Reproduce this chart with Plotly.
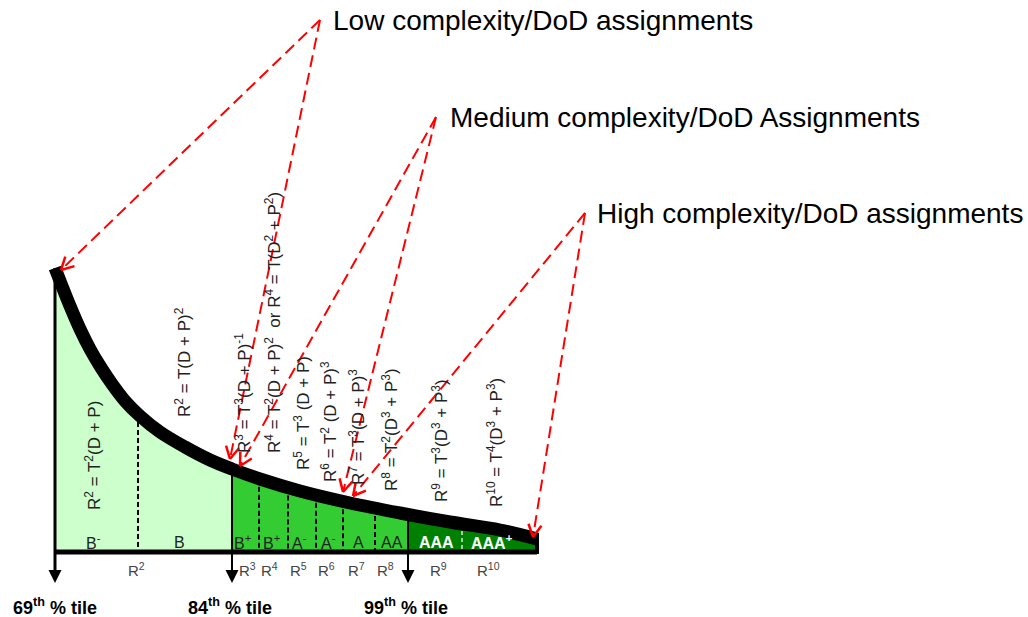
import numpy as np
import plotly.graph_objects as go

# ---------------- data (diagram units = pixels of the 1028x617 canvas) -------------
curve_x = [55, 62, 70, 80, 90, 100, 112, 125, 140, 160, 185, 210, 232, 260, 300, 350, 400, 450, 500, 537]
curve_y = [268, 286, 306, 329, 349, 366, 384, 401, 416, 432, 447, 460, 469, 479, 491, 503, 513, 522, 530, 539]
baseline_y = 552
zone_edges = [55, 232, 408, 537]
zone_colors = ["#ccffcc", "#33cc33", "#008000"]
dashed_x = [138, 259, 288, 316, 343, 375]
faint_x = [462]

grade_labels = ["B<sup>-</sup>", "B", "B<sup>+</sup>", "B<sup>+</sup>", "A<sup>-</sup>", "A<sup>-</sup>",
                "A", "AA", "<b>AAA</b>", "<b>AAA<sup>+</sup></b>"]
grade_x = [93, 179, 242, 271, 299, 328, 358, 392, 436, 492]
grade_colors = ["#222222"] * 8 + ["white", "white"]
grade_y = 542

r_labels = ["R<sup>2</sup>", "R<sup>3</sup>", "R<sup>4</sup>", "R<sup>5</sup>", "R<sup>6</sup>",
            "R<sup>7</sup>", "R<sup>8</sup>", "R<sup>9</sup>", "R<sup>10</sup>"]
r_x = [136, 247, 269, 298, 326, 356, 385, 438, 488]
r_y = 569

percentile_labels = ["<b>69<sup>th</sup> % tile</b>", "<b>84<sup>th</sup> % tile</b>", "<b>99<sup>th</sup> % tile</b>"]
percentile_x = [55, 230, 406]
percentile_y = 606
arrow_bottom_y = 583

formula_texts = [
    "R<sup>2</sup> = T<sup>2</sup>(D + P)",
    "R<sup>2</sup> = T(D + P)<sup>2</sup>",
    "R<sup>3</sup> = T<sup>3</sup>(D + P)<sup>-1</sup>",
    "R<sup>4</sup> = T<sup>2</sup>(D + P)<sup>2</sup>  or R<sup>4</sup> = T(D<sup>2</sup> + P<sup>2</sup>)",
    "R<sup>5</sup> = T<sup>3</sup> (D + P)",
    "R<sup>6</sup> = T<sup>2</sup> (D + P)<sup>3</sup>",
    "R<sup>7</sup> = T<sup>3</sup>(D + P)<sup>3</sup>",
    "R<sup>8</sup> = T<sup>2</sup>(D<sup>3</sup> + P<sup>3</sup>)",
    "R<sup>9</sup> = T<sup>3</sup>(D<sup>3</sup> + P<sup>3</sup>)",
    "R<sup>10</sup> = T<sup>4</sup>(D<sup>3</sup> + P<sup>3</sup>)",
]
formula_x = [93, 183, 243, 273, 302, 329, 357, 390, 440, 495]
formula_y = [456, 362, 393, 323, 413, 422, 427, 430, 441, 443]

callout_texts = ["Low complexity/DoD assignments", "Medium complexity/DoD Assignments",
                 "High complexity/DoD assignments"]
callout_text_x = [331, 448, 595]
callout_text_y = [20, 117, 213]
callout_origin_x = [320, 436, 585]
callout_origin_y = [20, 117, 213]
callout_targets = [
    [(61, 270), (230, 459)],
    [(240, 466), (343, 492)],
    [(353, 496), (533, 537)],
]

FONT = "Liberation Sans, Arial, sans-serif"

fig = go.Figure()

cx = np.array(curve_x, dtype=float)
cy = np.array(curve_y, dtype=float)
dense_x = np.arange(curve_x[0], curve_x[-1] + 1, 1.0)
dense_y = np.interp(dense_x, cx, cy)

# ---- filled zones under curve ----
for i, col in enumerate(zone_colors):
    a, b = zone_edges[i], zone_edges[i + 1]
    m = (dense_x >= a) & (dense_x <= b)
    xs = list(dense_x[m]) + [b, a, a]
    ys = list(dense_y[m]) + [baseline_y, baseline_y, dense_y[m][0]]
    fig.add_trace(go.Scatter(x=xs, y=ys, fill="toself", fillcolor=col, mode="none",
                             hoverinfo="skip", showlegend=False))

# ---- dashed separators ----
dx, dy = [], []
for x in dashed_x:
    dx += [x, x, None]
    dy += [float(np.interp(x, cx, cy)), baseline_y, None]
fig.add_trace(go.Scatter(x=dx, y=dy, mode="lines", line=dict(color="black", width=2, dash="5px,3px"),
                         hoverinfo="skip", showlegend=False))
fx, fy = [], []
for x in faint_x:
    fx += [x, x, None]
    fy += [float(np.interp(x, cx, cy)), baseline_y, None]
fig.add_trace(go.Scatter(x=fx, y=fy, mode="lines", line=dict(color="#9fd09f", width=2, dash="4px,3px"),
                         hoverinfo="skip", showlegend=False))

# ---- solid zone boundaries ----
sx, sy = [], []
for x in zone_edges[1:3]:
    sx += [x, x, None]
    sy += [float(np.interp(x, cx, cy)), arrow_bottom_y - 6, None]
fig.add_trace(go.Scatter(x=sx, y=sy, mode="lines", line=dict(color="black", width=2),
                         hoverinfo="skip", showlegend=False))
fig.add_trace(go.Scatter(x=[zone_edges[0], zone_edges[0]], y=[curve_y[0], arrow_bottom_y - 6], mode="lines",
                         line=dict(color="black", width=3), hoverinfo="skip", showlegend=False))

# ---- baseline ----
fig.add_trace(go.Scatter(x=[zone_edges[0], zone_edges[-1]], y=[baseline_y, baseline_y], mode="lines",
                         line=dict(color="black", width=5), hoverinfo="skip", showlegend=False))

# ---- curve ----
fig.add_trace(go.Scatter(x=curve_x, y=curve_y, mode="lines",
                         line=dict(color="black", width=13, shape="spline", smoothing=1.0),
                         hoverinfo="skip", showlegend=False))
fig.add_trace(go.Scatter(x=[zone_edges[-1], zone_edges[-1]], y=[curve_y[-1] - 6, baseline_y + 2], mode="lines",
                         line=dict(color="black", width=4), hoverinfo="skip", showlegend=False))

# ---- red dashed callouts ----
rx, ry, hx, hy = [], [], [], []
for (ox, oy), targets in zip(zip(callout_origin_x, callout_origin_y), callout_targets):
    for tx, ty in targets:
        rx += [ox, tx, None]
        ry += [oy, ty, None]
        d = np.array([tx - ox, ty - oy], dtype=float)
        d /= np.linalg.norm(d)
        for ang in (np.radians(28), -np.radians(28)):
            c, s = np.cos(ang), np.sin(ang)
            r = np.array([d[0] * c - d[1] * s, d[0] * s + d[1] * c])
            hx += [tx - 14 * r[0], tx, None]
            hy += [ty - 14 * r[1], ty, None]
fig.add_trace(go.Scatter(x=rx, y=ry, mode="lines", line=dict(color="#ff0000", width=2, dash="12px,6px"),
                         hoverinfo="skip", showlegend=False))
fig.add_trace(go.Scatter(x=hx, y=hy, mode="lines", line=dict(color="#ff0000", width=2.5),
                         hoverinfo="skip", showlegend=False))

ann = []
for t, x, y in zip(callout_texts, callout_text_x, callout_text_y):
    ann.append(dict(x=x, y=y, text=t, showarrow=False, xanchor="left", yanchor="middle",
                    font=dict(family=FONT, size=28, color="black")))
for t, x, y in zip(formula_texts, formula_x, formula_y):
    ann.append(dict(x=x, y=y, text=t, showarrow=False, textangle=-90, xanchor="center", yanchor="middle",
                    font=dict(family=FONT, size=17, color="#222222")))
for t, x, c in zip(grade_labels, grade_x, grade_colors):
    ann.append(dict(x=x, y=grade_y, text=t, showarrow=False, xanchor="center", yanchor="middle",
                    font=dict(family=FONT, size=16, color=c)))
for t, x in zip(r_labels, r_x):
    ann.append(dict(x=x, y=r_y, text=t, showarrow=False, xanchor="center", yanchor="middle",
                    font=dict(family=FONT, size=15, color="#444444")))
for t, x in zip(percentile_labels, percentile_x):
    ann.append(dict(x=x, y=percentile_y, text=t, showarrow=False, xanchor="center", yanchor="middle",
                    font=dict(family=FONT, size=18, color="black")))
for x in zone_edges[:3]:
    ann.append(dict(x=x, y=arrow_bottom_y, ax=x, ay=arrow_bottom_y - 8, axref="x", ayref="y",
                    showarrow=True, arrowhead=2, arrowsize=1.3, arrowwidth=2, arrowcolor="black", text=""))

W, H = 1028, 617
fig.update_layout(
    width=W, height=H, margin=dict(l=0, r=0, t=0, b=0),
    paper_bgcolor="white", plot_bgcolor="white",
    xaxis=dict(range=[0, W], visible=False, fixedrange=True),
    yaxis=dict(range=[H, 0], visible=False, fixedrange=True),
    annotations=ann, showlegend=False,
)
fig.write_html("out.html", config={"displayModeBar": False},
               post_script="document.body.style.margin='0';document.body.style.overflow='hidden';")
